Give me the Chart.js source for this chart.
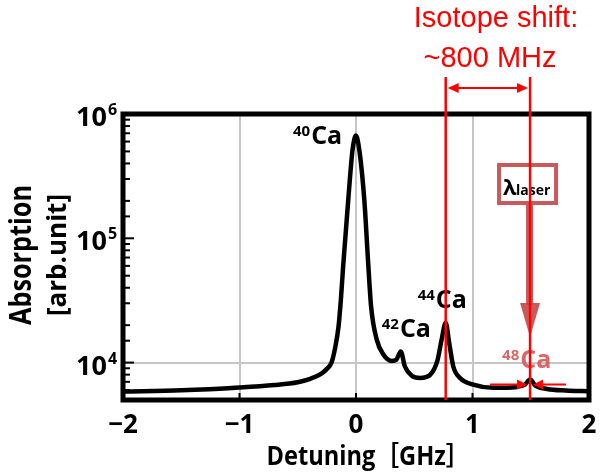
<!DOCTYPE html>
<html>
<head>
<meta charset="utf-8">
<script src="https://cdn.jsdelivr.net/npm/chart.js@4.4.1/dist/chart.umd.min.js"></script>
<style>
  html, body { margin: 0; padding: 0; background: #fff; }
</style>
</head>
<body>
<canvas id="spectrum" width="602" height="476"></canvas>
<script>
// absorption spectrum (GHz, arb. unit)
const detuning = [-2.0, -1.5, -1.0, -0.7, -0.5, -0.4, -0.3, -0.25, -0.21, -0.18, -0.15, -0.13, -0.11, -0.066, -0.029, 0,
  0.03, 0.072, 0.106, 0.13, 0.178, 0.235, 0.306, 0.345, 0.384, 0.42, 0.478, 0.55, 0.635, 0.698,
  0.735, 0.77, 0.80, 0.835, 0.893, 1.007, 1.18, 1.38, 1.45, 1.494, 1.54, 1.64, 1.80, 2.0];
const absorption = [5850, 5980, 6300, 6600, 6950, 7350, 8100, 8900, 10000, 13000, 19500, 32000, 60000, 207000, 520000, 670000,
  500000, 200000, 60000, 28000, 15300, 11600, 10300, 10500, 12300, 9300, 7850, 7530, 7950, 10300,
  15300, 20900, 14400, 9300, 7530, 6650, 6260, 6370, 6650, 7300, 6530, 6140, 5960, 5880];

const xTickValues = [-2, -1, 0, 1, 2];
const yDecades = [1e4, 1e5, 1e6];

// isotope peaks
const peakMass = ['40', '42', '44', '48'];
const peakDetuning = [0, 0.384, 0.77, 1.494];
const peakAbsorption = [670000, 12300, 20900, 7300];

// isotope shift markers (44Ca -> 48Ca)
const shiftMarks = [0.77, 1.494];

const RED = '#ff0000';
const BOX = 'rgba(196, 72, 72, 0.9)';
const FONT = '"Open Sans", "Noto Sans CJK JP", sans-serif';

function arrowHead(ctx, x, y, dir, len, half) {
  ctx.beginPath();
  ctx.moveTo(x, y);
  ctx.lineTo(x - dir * len, y - half);
  ctx.lineTo(x - dir * len, y + half);
  ctx.closePath();
  ctx.fill();
}

function fitText(ctx, text, x, y, width) {
  const w = ctx.measureText(text).width;
  ctx.save();
  ctx.translate(x, y);
  ctx.scale(width / w, 1);
  ctx.textAlign = 'center';
  ctx.fillText(text, 0, 0);
  ctx.restore();
}

function isoLabel(ctx, mass, x, y, color) {
  ctx.fillStyle = color;
  ctx.textAlign = 'left';
  ctx.font = 'bold 15px ' + FONT;
  ctx.fillText(mass, x, y - 8);
  const w = ctx.measureText(mass).width;
  ctx.font = 'bold 25px ' + FONT;
  ctx.fillText('Ca', x + w + 1, y);
}

const overlay = {
  id: 'overlay',
  afterDatasetsDraw(chart) {
    const { ctx, chartArea: a, scales: { x, y } } = chart;
    ctx.save();
    ctx.textBaseline = 'alphabetic';

    // frame
    ctx.strokeStyle = '#000';
    ctx.lineWidth = 5;
    ctx.strokeRect(a.left, a.top, a.right - a.left, a.bottom - a.top);

    // inward ticks
    ctx.lineWidth = 2;
    y.ticks.forEach(t => {
      const py = y.getPixelForValue(t.value);
      const major = Math.abs(Math.log10(t.value) - Math.round(Math.log10(t.value))) < 1e-6;
      ctx.beginPath();
      ctx.moveTo(a.left, py);
      ctx.lineTo(a.left + (major ? 11 : 7), py);
      ctx.stroke();
    });
    xTickValues.forEach(v => {
      const px = x.getPixelForValue(v);
      ctx.beginPath();
      ctx.moveTo(px, a.bottom);
      ctx.lineTo(px, a.bottom - 7);
      ctx.stroke();
    });

    // tick labels
    ctx.fillStyle = '#000';
    xTickValues.forEach(v => {
      const px = x.getPixelForValue(v);
      ctx.font = 'bold 26px ' + FONT;
      ctx.textAlign = 'center';
      ctx.fillText(v < 0 ? '\u2212' + Math.abs(v) : String(v), px, 433);
    });
    yDecades.forEach(v => {
      const py = y.getPixelForValue(v);
      ctx.font = 'bold 27px ' + FONT;
      ctx.textAlign = 'right';
      ctx.fillText('10', 107, py + 12);
      ctx.font = 'bold 16px ' + FONT;
      ctx.textAlign = 'left';
      ctx.fillText(String(Math.round(Math.log10(v))), 108, py + 1);
    });

    // axis titles
    ctx.font = 'bold 26px ' + FONT;
    fitText(ctx, 'Detuning\uFF3BGHz\uFF3D', 368, 465, 203);
    ctx.save();
    ctx.translate(0, 255);
    ctx.rotate(-Math.PI / 2);
    ctx.font = 'bold 30px ' + FONT;
    fitText(ctx, 'Absorption', 0, 31, 140);
    ctx.font = 'bold 27px ' + FONT;
    fitText(ctx, '[arb.unit]', 0, 66, 122);
    ctx.restore();

    // isotope labels
    const offs = [[-63, 8], [-19, -14], [-28, -15], [-28, -12]];
    peakMass.forEach((m, i) => {
      if (i === 3) return;
      const px = x.getPixelForValue(peakDetuning[i]);
      const py = y.getPixelForValue(peakAbsorption[i]);
      isoLabel(ctx, m, px + offs[i][0], py + offs[i][1], '#000');
    });

    // laser box + arrow at 48Ca
    const lx = x.getPixelForValue(peakDetuning[3]);
    const ly = y.getPixelForValue(peakAbsorption[3]);
    ctx.strokeStyle = BOX;
    ctx.fillStyle = BOX;
    ctx.lineWidth = 4;
    ctx.strokeRect(lx - 31, 165, 57, 38);
    ctx.fillRect(lx - 4, 205, 7, 100);
    ctx.beginPath();
    ctx.moveTo(lx - 10, 303);
    ctx.lineTo(lx + 10, 303);
    ctx.lineTo(lx, 337);
    ctx.closePath();
    ctx.fill();
    ctx.fillStyle = '#000';
    ctx.textAlign = 'left';
    ctx.font = 'bold 22px ' + FONT;
    ctx.fillText('\u03BB', lx - 27, 195);
    ctx.font = 'bold 14px ' + FONT;
    ctx.fillText('laser', lx - 14, 195);
    isoLabel(ctx, peakMass[3], lx + offs[3][0], ly + offs[3][1], 'rgba(215, 95, 95, 0.95)');

    // isotope shift markers
    ctx.strokeStyle = RED;
    ctx.fillStyle = RED;
    ctx.lineWidth = 2.5;
    const sx = shiftMarks.map(v => x.getPixelForValue(v));
    sx.forEach(px => {
      ctx.beginPath();
      ctx.moveTo(px, 77);
      ctx.lineTo(px, a.bottom);
      ctx.stroke();
    });
    ctx.lineWidth = 2;
    ctx.beginPath();
    ctx.moveTo(sx[0] + 4, 88);
    ctx.lineTo(sx[1] - 4, 88);
    ctx.stroke();
    arrowHead(ctx, sx[0] + 2, 88, -1, 11, 5);
    arrowHead(ctx, sx[1] - 2, 88, 1, 11, 5);

    // small arrows at 48Ca
    const ay = ly + 5;
    ctx.beginPath();
    ctx.moveTo(lx - 40, ay);
    ctx.lineTo(lx - 8, ay);
    ctx.moveTo(lx + 36, ay);
    ctx.lineTo(lx + 8, ay);
    ctx.stroke();
    arrowHead(ctx, lx - 3, ay, 1, 10, 5);
    arrowHead(ctx, lx + 3, ay, -1, 10, 5);

    ctx.font = '29px "Liberation Sans", Arial, sans-serif';
    ctx.textAlign = 'center';
    ctx.fillText('Isotope shift:', 496, 27);
    ctx.fillText('~800 MHz', 490, 67);

    ctx.restore();
  }
};

const ctx = document.getElementById('spectrum').getContext('2d');
new Chart(ctx, {
  type: 'line',
  data: {
    datasets: [{
      data: detuning.map((d, i) => ({ x: d, y: absorption[i] })),
      borderColor: '#000',
      borderWidth: 4.5,
      pointRadius: 0,
      fill: false,
      cubicInterpolationMode: 'monotone'
    }]
  },
  options: {
    responsive: false,
    animation: false,
    layout: { padding: { top: 114, right: 13, left: 0, bottom: 0 } },
    plugins: { legend: { display: false }, tooltip: { enabled: false } },
    scales: {
      x: {
        type: 'linear',
        min: -2,
        max: 2,
        ticks: { display: false, stepSize: 1 },
        border: { display: false },
        grid: {
          drawTicks: false,
          lineWidth: 2,
          color: c => (c.tick && [-1, 0, 1].includes(c.tick.value)) ? '#c6c6c6' : 'rgba(0,0,0,0)'
        },
        afterFit: s => { s.height = 76; }
      },
      y: {
        type: 'logarithmic',
        min: 5000,
        max: 1e6,
        ticks: { display: false },
        border: { display: false },
        grid: {
          drawTicks: false,
          lineWidth: 2,
          color: c => (c.tick && Math.abs(c.tick.value - 1e4) < 1) ? '#c6c6c6' : 'rgba(0,0,0,0)'
        },
        afterFit: s => { s.width = 123; }
      }
    }
  },
  plugins: [overlay]
});
</script>
</body>
</html>
